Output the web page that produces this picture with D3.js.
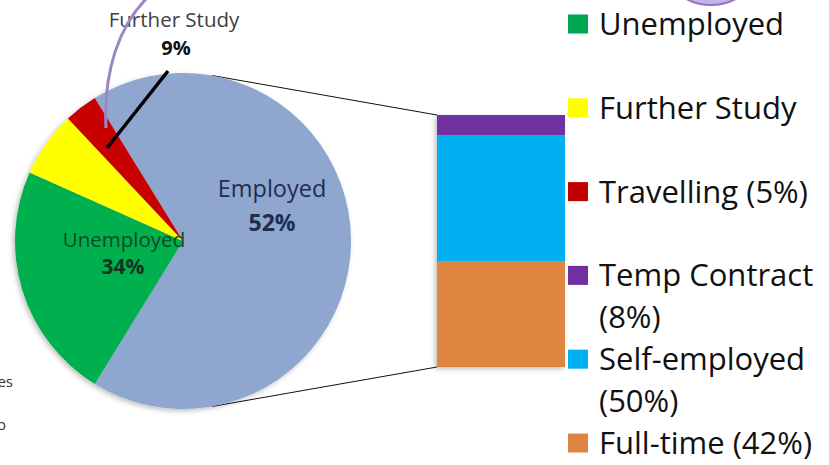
<!DOCTYPE html>
<html>
<head>
<meta charset="utf-8">
<script src="https://cdn.jsdelivr.net/npm/d3@7"></script>
<style>
  body { margin: 0; background: #fff; }
  svg { display: block; font-family: "Open Sans", sans-serif; }
</style>
</head>
<body>
<svg id="chart" width="829" height="465"></svg>
<script>
// pie slices (share of circle as drawn) and their printed labels
var pieNames = ['Employed', 'Unemployed', 'Further Study', 'Travelling'];
var pieValues = [67.6, 22.9, 6.3, 3.2];
var pieLabels = ['52%', '34%', '9%', '5%'];
var pieColors = ['#8fa6cf', '#00b050', '#ffff00', '#c80000'];

// breakdown of employed, bottom to top
var barNames = ['Full-time', 'Self-employed', 'Temp Contract'];
var barValues = [42, 50, 8];
var barColors = ['#de8543', '#00b0f0', '#7030a0'];

var legendNames = ['Unemployed', 'Further Study', 'Travelling (5%)', 'Temp Contract|(8%)', 'Self-employed|(50%)', 'Full-time (42%)'];
var legendColors = ['#00a651', '#ffff00', '#c00000', '#7030a0', '#00b0f0', '#de8543'];

var svg = d3.select('#chart');
var cx = 183, cy = 241, r = 168;

var defs = svg.append('defs');
var shadow = defs.append('filter').attr('id', 'shadow')
  .attr('x', '-10%').attr('y', '-10%').attr('width', '120%').attr('height', '120%');
shadow.append('feDropShadow')
  .attr('dx', -2).attr('dy', 2).attr('stdDeviation', 2.5)
  .attr('flood-color', '#000').attr('flood-opacity', 0.25);

// bits of the slide that got cropped in
svg.append('ellipse')
  .attr('cx', 711).attr('cy', -42).attr('rx', 50).attr('ry', 47)
  .attr('fill', '#c3b1e8').attr('stroke', '#9275c9').attr('stroke-width', 2);
svg.append('text').attr('x', 13).attr('y', 387).attr('text-anchor', 'end')
  .attr('font-size', 15).attr('fill', '#333').text('es');
svg.append('text').attr('x', 6).attr('y', 430).attr('text-anchor', 'end')
  .attr('font-size', 15).attr('fill', '#333').text('o');

// connector lines from the pie to the bar
var y = d3.scaleLinear().domain([0, 100]).range([367, 115]);
var barX = 437, barW = 128;
var tA = 10 * Math.PI / 180, bA = 170 * Math.PI / 180;
svg.append('line')
  .attr('x1', cx + r * Math.sin(tA)).attr('y1', cy - r * Math.cos(tA))
  .attr('x2', barX).attr('y2', y(100))
  .attr('stroke', '#111').attr('stroke-width', 1);
svg.append('line')
  .attr('x1', cx + r * Math.sin(bA)).attr('y1', cy - r * Math.cos(bA))
  .attr('x2', barX).attr('y2', y(0))
  .attr('stroke', '#111').attr('stroke-width', 1);

// pie
var startA = -31.7 * Math.PI / 180;
var pie = d3.pie().sort(null)
  .startAngle(startA).endAngle(startA + 2 * Math.PI);
var arc = d3.arc().innerRadius(0).outerRadius(r);
var slices = pie(pieValues);

svg.append('g')
  .attr('transform', 'translate(' + cx + ',' + cy + ')')
  .attr('filter', 'url(#shadow)')
  .selectAll('path')
  .data(slices).enter()
  .append('path')
  .attr('d', arc)
  .attr('fill', function(d, i){ return pieColors[i]; });

// stacked bar
var stackData = [{}];
barNames.forEach(function(n, i){ stackData[0][n] = barValues[i]; });
var series = d3.stack().keys(barNames)(stackData);

svg.append('g')
  .attr('filter', 'url(#shadow)')
  .selectAll('rect')
  .data(series).enter()
  .append('rect')
  .attr('x', barX)
  .attr('width', barW)
  .attr('y', function(d){ return y(d[0][1]); })
  .attr('height', function(d){ return y(d[0][0]) - y(d[0][1]); })
  .attr('fill', function(d, i){ return barColors[i]; });

// pie labels
var labels = svg.append('g');
labels.append('text').attr('x', 272).attr('y', 197).attr('text-anchor', 'middle')
  .attr('font-size', 23.5).attr('fill', '#1f2d4e').text(pieNames[0]);
labels.append('text').attr('x', 272).attr('y', 231).attr('text-anchor', 'middle')
  .attr('font-size', 23).attr('font-weight', 'bold').attr('fill', '#1f2d4e').text(pieLabels[0]);
labels.append('text').attr('x', 124).attr('y', 247).attr('text-anchor', 'middle')
  .attr('font-size', 20.5).attr('fill', '#0b4a22').text(pieNames[1]);
labels.append('text').attr('x', 123).attr('y', 274).attr('text-anchor', 'middle')
  .attr('font-size', 21).attr('font-weight', 'bold').attr('fill', '#16331f').text(pieLabels[1]);

// leader for the small slice, label sits above the pie
svg.append('line')
  .attr('x1', 168).attr('y1', 71).attr('x2', 107).attr('y2', 148)
  .attr('stroke', '#000').attr('stroke-width', 3.5);
labels.append('text').attr('x', 174).attr('y', 27).attr('text-anchor', 'middle')
  .attr('font-size', 20.5).attr('fill', '#404040').text(pieNames[2]);
labels.append('text').attr('x', 176).attr('y', 55).attr('text-anchor', 'middle')
  .attr('font-size', 20).attr('font-weight', 'bold').attr('fill', '#111').text(pieLabels[2]);

// purple arrow from the slide, pointing at the red slice
svg.append('path')
  .attr('d', 'M147,-2 C120,25 103,70 106,128')
  .attr('fill', 'none').attr('stroke', '#9a88c4').attr('stroke-width', 3);

// legend
var ly = d3.scalePoint().domain(legendNames).range([24, 443]);
var leg = svg.append('g').selectAll('g')
  .data(legendNames).enter()
  .append('g')
  .attr('transform', function(d){ return 'translate(568,' + ly(d) + ')'; });

leg.append('rect')
  .attr('x', 0).attr('y', -9.5).attr('width', 20).attr('height', 19)
  .attr('fill', function(d, i){ return legendColors[i]; });

leg.append('text')
  .attr('x', 31).attr('y', 11)
  .attr('font-size', 31).attr('fill', '#111')
  .each(function(d){
    var parts = d.split('|');
    var t = d3.select(this);
    parts.forEach(function(p, j){
      t.append('tspan').attr('x', 31).attr('dy', j ? 42 : 0).text(p);
    });
  });
</script>
</body>
</html>
